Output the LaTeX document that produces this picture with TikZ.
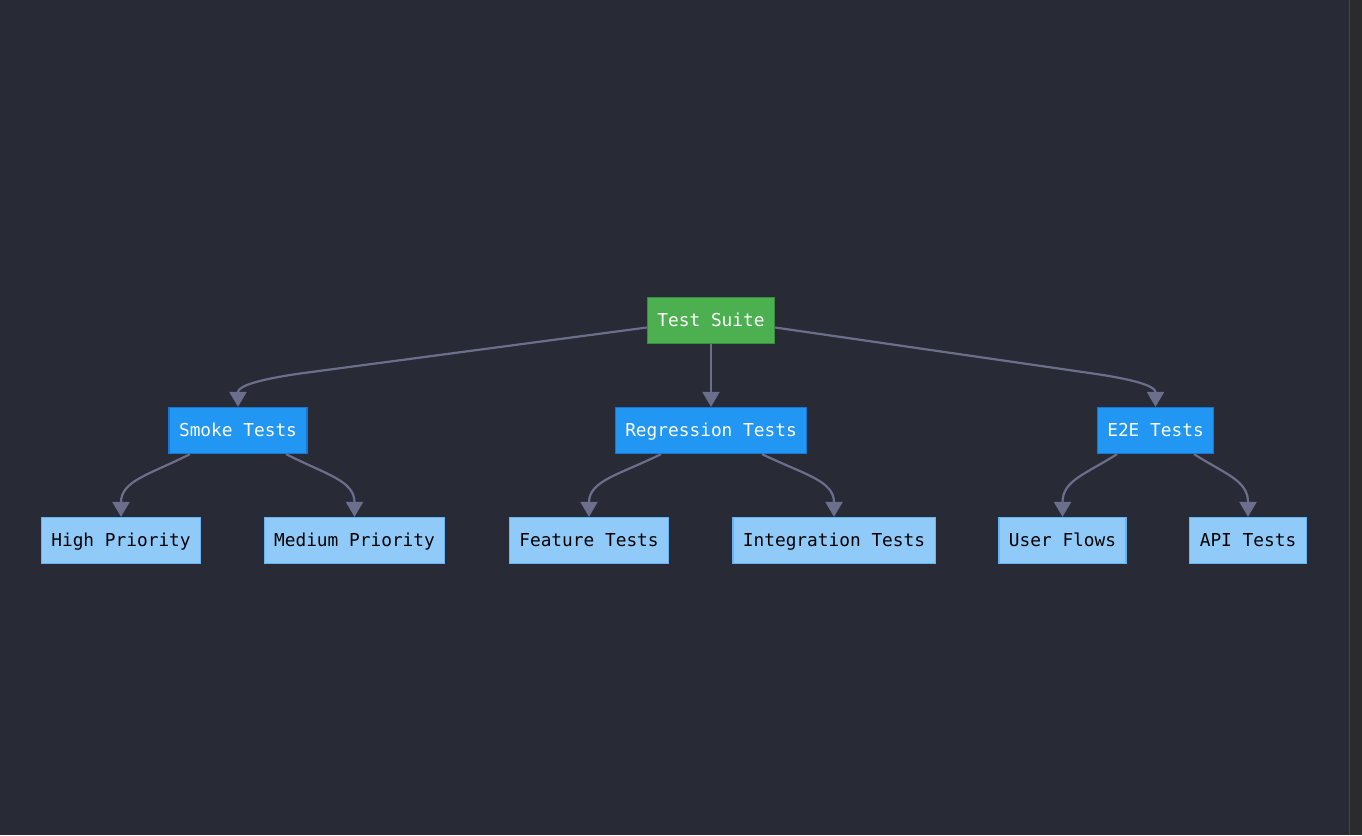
\documentclass[tikz,border=0pt]{standalone}
\usepackage{fontspec}
\setmonofont{DejaVu Sans Mono}
\usetikzlibrary{arrows.meta}
\definecolor{bgc}{RGB}{40,42,54}
\definecolor{stripc}{RGB}{43,43,43}
\definecolor{stripline}{RGB}{70,70,74}
\definecolor{edgec}{RGB}{108,111,140}
\definecolor{greenf}{RGB}{76,175,80}
\definecolor{greend}{RGB}{56,142,60}
\definecolor{bluef}{RGB}{33,150,243}
\definecolor{blued}{RGB}{25,118,210}
\definecolor{lbluef}{RGB}{144,202,249}
\definecolor{lblued}{RGB}{100,181,246}
\tikzset{
  box/.style={rectangle, minimum height=46pt, inner xsep=10pt, inner ysep=0pt,
    text height=15pt, text depth=3pt,
    line width=1.2pt, font=\ttfamily\fontsize{17.8}{20}\selectfont, anchor=center},
  rootbox/.style={box, fill=greenf, draw=greend, text=white},
  midbox/.style={box, fill=bluef, draw=blued, text=white},
  leafbox/.style={box, fill=lbluef, draw=lblued, text=black},
  edge/.style={draw=edgec, line width=2.2pt, -{Triangle[length=15pt,width=17pt]}, edgec}
}
\begin{document}
\begin{tikzpicture}[x=1pt,y=-1pt]
\fill[bgc] (0,0) rectangle (1362,834);
\fill[stripc] (1350,0) rectangle (1362,834);
\draw[stripline, line width=1pt] (1349.5,0) -- (1349.5,834);
\useasboundingbox (0,0) rectangle (1362,834);

\node[rootbox] (ts) at (711,320) {Test Suite};
\node[midbox] (sm) at (238,430) {Smoke Tests};
\node[midbox] (rg) at (711,430) {Regression Tests};
\node[midbox] (ee) at (1155.5,430) {E2E Tests};
\node[leafbox] (hp) at (121,540) {High Priority};
\node[leafbox] (mp) at (354.5,540) {Medium Priority};
\node[leafbox] (ft) at (589,540) {Feature Tests};
\node[leafbox] (it) at (834,540) {Integration Tests};
\node[leafbox] (uf) at (1062.5,540) {User Flows};
\node[leafbox] (at) at (1248,540) {API Tests};

% root edges
\draw[edge] ([yshift=-7pt]ts.west) -- (300,373) .. controls (245,381) and (sm.north |- 0,388) .. (sm.north);
\draw[edge] (ts.south) -- (rg.north);
\draw[edge] ([yshift=-7pt]ts.east) -- (1093,373) .. controls (1148,381) and (ee.north |- 0,388) .. (ee.north);

% smoke children
\draw[edge] ([xshift=-48pt]sm.south) .. controls (150,474) and (hp.north |- 0,480) .. (hp.north);
\draw[edge] ([xshift=48pt]sm.south) .. controls (326,474) and (mp.north |- 0,480) .. (mp.north);
% regression children
\draw[edge] ([xshift=-50pt]rg.south) .. controls (620,474) and (ft.north |- 0,480) .. (ft.north);
\draw[edge] ([xshift=51pt]rg.south) .. controls (804,474) and (it.north |- 0,480) .. (it.north);
% e2e children
\draw[edge] ([xshift=-38.5pt]ee.south) .. controls (1085,474) and (uf.north |- 0,480) .. (uf.north);
\draw[edge] ([xshift=38.5pt]ee.south) .. controls (1226,474) and (at.north |- 0,480) .. (at.north);
\end{tikzpicture}
\end{document}
